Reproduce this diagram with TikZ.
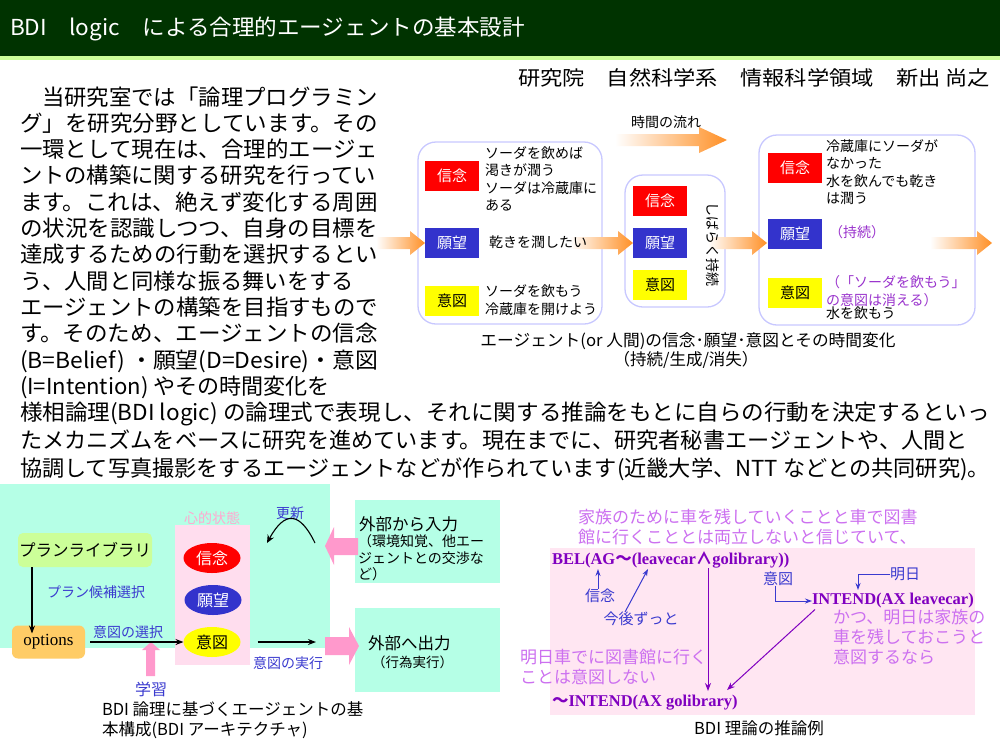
\documentclass[tikz,border=0pt]{standalone}
\usepackage{fontspec}
\usepackage{graphicx}
\setmainfont{Noto Sans CJK JP}
\newfontfamily\lserif{Liberation Serif}
\usetikzlibrary{shapes.geometric,arrows.meta,calc}
\newcommand{\fitw}[2]{\resizebox{#1pt}{\height}{#2}}
\newcommand{\fs}[2]{\fontsize{#1}{#2}\selectfont}
\definecolor{hdrgreen}{HTML}{003300}
\definecolor{hdrline}{HTML}{CCFF99}
\definecolor{bred}{HTML}{FF0000}
\definecolor{bblue}{HTML}{3333CC}
\definecolor{byellow}{HTML}{FFFF00}
\definecolor{boxline}{HTML}{C8C8FF}
\definecolor{arrorange}{HTML}{FF9026}
\definecolor{mint}{HTML}{B5FFE6}
\definecolor{pinkreg}{HTML}{FFDDEE}
\definecolor{pinkreg2}{HTML}{FFE6F2}
\definecolor{pinkarr}{HTML}{FF99CC}
\definecolor{pinktitle}{HTML}{FFA8D0}
\definecolor{lblblue}{HTML}{3A3ACF}
\definecolor{purpdark}{HTML}{8000C0}
\definecolor{purplight}{HTML}{CC70F0}
\definecolor{libgreen}{HTML}{CCFF99}
\definecolor{optorange}{HTML}{FFCC66}
\newcommand{\garrow}[6]{% x0, xtip, yc, halfhead, halfbody, headlen
  \shade[left color=white, right color=arrorange]
    ({#1},{#3-#5}) -- ({#2-#6},{#3-#5}) -- ({#2-#6},{#3-#4}) -- ({#2},{#3})
    -- ({#2-#6},{#3+#4}) -- ({#2-#6},{#3+#5}) -- ({#1},{#3+#5}) -- cycle;}
\begin{document}
\begin{tikzpicture}[x=1pt,y=-1pt,
  every node/.style={inner sep=0pt,outer sep=0pt},
  body/.style={anchor=base west,font=\fs{22}{26}},
  lbl/.style={rectangle,minimum width=54pt,minimum height=30pt,font=\fs{15}{15}},
  agbox/.style={draw=boxline,line width=1.3pt,rounded corners=18pt},
  small/.style={anchor=west,align=left,font=\fs{14}{17.5}},
  ell/.style={ellipse,minimum width=57pt,minimum height=30pt,font=\fs{16}{16}},
  bluetxt/.style={text=lblblue,font=\fs{14}{14}},
  blk/.style={draw=black,line width=1.1pt,-{Stealth[length=8pt,width=6pt]}},
  barr/.style={draw=lblblue,line width=1pt,-{Stealth[length=7pt,width=5pt]}},
  parr/.style={draw=purpdark,line width=1pt,-{Stealth[length=8pt,width=6pt]}},
  logic/.style={anchor=west,text=purpdark,font=\fs{16.5}{16.5}\bfseries},
  lpur/.style={anchor=west,align=left,text=purplight,font=\fs{17}{19}},
  capt/.style={font=\fs{16.5}{20}}]
\useasboundingbox (0,0) rectangle (1000,750);
\fill[white] (0,0) rectangle (1000,750);
% header
\fill[hdrgreen] (0,0) rectangle (1000,56);
\fill[hdrline] (0,56) rectangle (1000,60);
\node[anchor=west,text=white,font=\fs{22}{22}] (title) at (10,29) {\fitw{515}{BDI　logic　による合理的エージェントの基本設計}};
\node[anchor=base east,font=\fs{20}{20}] (author) at (990,85) {\fitw{472}{研究院　自然科学系　情報科学領域　新出 尚之}};
% body text
\node[body] (p1) at (42,105) {\fitw{336}{当研究室では「論理プログラミン}};
\node[body] (p2) at (20,131.3) {\fitw{358}{グ」を研究分野としています。その}};
\node[body] (p3) at (20,157.6) {\fitw{358}{一環として現在は、合理的エージェ}};
\node[body] (p4) at (20,183.9) {\fitw{356}{ントの構築に関する研究を行ってい}};
\node[body] (p5) at (20,210.2) {\fitw{358}{ます。これは、絶えず変化する周囲}};
\node[body] (p6) at (20,236.5) {\fitw{358}{の状況を認識しつつ、自身の目標を}};
\node[body] (p7) at (20,262.8) {\fitw{358}{達成するための行動を選択するとい}};
\node[body] (p8) at (20,289.1) {\fitw{334}{う、人間と同様な振る舞いをする}};
\node[body] (p9) at (20,315.4) {\fitw{358}{エージェントの構築を目指すもので}};
\node[body] (p10) at (20,341.7) {\fitw{358}{す。そのため、エージェントの信念}};
\node[body] (p11) at (20,368) {\fitw{358}{(B=Belief) ・願望(D=Desire)・意図}};
\node[body] (p12) at (20,394.3) {\fitw{310}{(I=Intention) やその時間変化を}};
\node[body] (p13) at (20,420) {\fitw{970}{様相論理(BDI logic) の論理式で表現し、それに関する推論をもとに自らの行動を決定するといっ}};
\node[body] (p14) at (20,448) {\fitw{948}{たメカニズムをベースに研究を進めています。現在までに、研究者秘書エージェントや、人間と}};
\node[body] (p15) at (20,476) {\fitw{970}{協調して写真撮影をするエージェントなどが作られています(近畿大学、NTT などとの共同研究)。}};
% ---------- top-right diagram ----------
\garrow{615}{727}{140}{13}{6}{28}
\node[font=\fs{14}{14}] (flow) at (666,122) {時間の流れ};
\draw[agbox] (418,142) rectangle (602,324);
\draw[agbox] (625,175) rectangle (725,307);
\draw[agbox] (759,135) rectangle (975,325);
\garrow{376}{425}{243}{12}{6}{15}
\garrow{570}{633}{243}{12}{6}{15}
\garrow{708}{767}{243}{12}{6}{15}
\garrow{930}{992}{243}{12}{6}{15}
% box 1
\node[lbl,fill=bred,text=white] (b1) at (452,176) {信念};
\node[lbl,fill=bblue,text=white] (d1) at (452,243) {願望};
\node[lbl,fill=byellow] (i1) at (452,301) {意図};
\node[small] (tb1) at (485,179) {ソーダを飲めば\\渇きが潤う\\ソーダは冷蔵庫に\\ある};
\node[small] (td1) at (489,242) {乾きを潤したい};
\node[small] (ti1) at (485,300) {ソーダを飲もう\\冷蔵庫を開けよう};
% box 2
\node[lbl,fill=bred,text=white] (b2) at (660,201) {信念};
\node[lbl,fill=bblue,text=white] (d2) at (660,243) {願望};
\node[lbl,fill=byellow] (i2) at (660,285) {意図};
\node[rotate=-90,font=\fs{14}{14}] (keep) at (713,244) {しばらく持続};
% box 3
\node[lbl,fill=bred,text=white] (b3) at (795,168) {信念};
\node[lbl,fill=bblue,text=white] (d3) at (795,234) {願望};
\node[lbl,fill=byellow] (i3) at (795,293) {意図};
\node[small] (tb3) at (826,172) {冷蔵庫にソーダが\\なかった\\水を飲んでも乾き\\は潤う};
\node[small,text=purpdark!80] (td3) at (829,232) {（持続）};
\node[small,text=purpdark!80] (ti3) at (826,291) {（「ソーダを飲もう」\\の意図は消える）};
\node[small] (ti3b) at (826,313) {水を飲もう};
\node[capt] (cap1) at (688,341) {\fitw{415}{エージェント(or 人間)の信念･願望･意図とその時間変化}};
\node[capt] (cap1b) at (686,360) {（持続/生成/消失）};
% ---------- bottom-left diagram ----------
\fill[mint] (0,484) rectangle (330,648);
\fill[mint] (355,500) rectangle (500,583);
\fill[mint] (355,608) rectangle (500,692);
\fill[pinkreg] (175,525) rectangle (250,665);
\node[text=pinktitle,font=\fs{14}{14}] (mstate) at (212,518) {心的状態};
\node[ell,fill=bred,text=white] (eb) at (212,558) {信念};
\node[ell,fill=bblue,text=white] (ed) at (213,600) {願望};
\node[ell,fill=byellow] (ei) at (212,642) {意図};
\node[bluetxt] (upd) at (290,513) {更新};
\coordinate (updA) at (315,543);
\coordinate (updB) at (267,543);
\draw[draw=black,line width=1.1pt,-{Stealth[length=8pt,width=7pt]}] (updA) .. controls (300,512) and (285,510) .. (updB);
\node[anchor=west,font=\fs{16.5}{16.5}] (inT) at (359,524) {外部から入力};
\node[anchor=north west,align=left,font=\fs{14}{16.3}] (inS) at (358,535) {（環境知覚、他エー\\ジェントとの交渉な\\ど）};
\node[anchor=west,font=\fs{16.5}{16.5}] (outT) at (368,643) {外部へ出力};
\node[anchor=west,font=\fs{13.5}{13.5}] (outS) at (372,662) {（行為実行）};
% pink block arrows
\fill[pinkarr] (325,546) -- (334,527) -- (334,538) -- (358,538) -- (358,555) -- (334,555) -- (334,565) -- cycle;
\fill[pinkarr] (325,637) -- (349,637) -- (349,627) -- (359,646) -- (349,665) -- (349,655) -- (325,655) -- cycle;
\fill[pinkarr] (146,676) -- (146,650) -- (142,650) -- (151,642) -- (160,650) -- (155,650) -- (155,676) -- cycle;
\node[rectangle,rounded corners=5pt,fill=libgreen,minimum width=134pt,minimum height=34pt,font=\fs{16.5}{16.5}] (lib) at (85,550) {プランライブラリ};
\node[rectangle,rounded corners=6pt,fill=optorange,minimum width=73pt,minimum height=33pt,font=\lserif\fs{17}{17}] (opt) at (48.5,642) {options};
\draw[blk] ([xshift=14pt]lib.south west) -- ([xshift=20pt,yshift=-8pt]opt.north west);
\node[bluetxt,anchor=west] (cand) at (47,592) {プラン候補選択};
\draw[blk] ([xshift=5pt]opt.east) -- (ei.west);
\node[bluetxt,anchor=west] (sel) at (93,632) {意図の選択};
\node[text=lblblue,font=\fs{16}{16}] (learn) at (151,689) {学習};
\coordinate (execEnd) at (316,642);
\draw[blk] ([xshift=17pt]ei.east) -- (execEnd);
\node[bluetxt,anchor=west] (exec) at (253,663) {意図の実行};
\node[anchor=north west,align=left,font=\fs{16.5}{20}] (cap2) at (102,702) {BDI 論理に基づくエージェントの基\\本構成(BDI アーキテクチャ)};
% ---------- bottom-right diagram ----------
\fill[pinkreg2] (550,548) rectangle (975,715);
\node[lpur] (hl1) at (578,517) {家族のために車を残していくことと車で図書};
\node[lpur] (hl2) at (578,537) {館に行くこととは両立しないと信じていて、};
\node[logic] (bel) at (552,560) {\lserif BEL(AG\normalfont\bfseries ～\lserif(leavecar\normalfont\bfseries ∧\lserif golibrary))};
\node[text=lblblue,font=\fs{15}{15}] (shin) at (600,596) {信念};
\draw[barr] (shin.north -| 598,0) -- (598,569);
\node[text=lblblue,font=\fs{15}{15}] (kongo) at (641,619) {今後ずっと};
\coordinate (kongoT) at (648,569);
\draw[barr] ([xshift=-16pt]kongo.north) -- (kongoT);
\coordinate (belD) at (708,568);
\coordinate (golT) at (708,691);
\draw[parr] (belD) -- (golT);
\node[text=lblblue,font=\fs{15}{15}] (ito) at (778,579) {意図};
\node[logic] (int1) at (812,601) {\lserif INTEND(AX leavecar)};
\draw[barr] ([xshift=-3pt]ito.south) |- (int1.west);
\node[text=lblblue,font=\fs{15}{15}] (asu) at (905,574) {明日};
\coordinate (asuT) at (858,590);
\draw[barr] (asu.west) -| (asuT);
\node[lpur] (kt) at (833,639) {\begin{tabular}{@{}l@{}}かつ、明日は家族の\\車を残しておこうと\\意図するなら\end{tabular}};
\node[lpur] (ml) at (520,669) {\begin{tabular}{@{}l@{}}明日車でに図書館に行く\\ことは意図しない\end{tabular}};
\node[logic] (int2) at (552,703) {\normalfont\bfseries ～\lserif INTEND(AX golibrary)};
\coordinate (golT2) at (727,690);
\draw[parr] ([xshift=3pt,yshift=-1pt]int1.south west) -- (golT2);
\node[capt] (cap3) at (759,728) {BDI 理論の推論例};
\end{tikzpicture}
\end{document}
